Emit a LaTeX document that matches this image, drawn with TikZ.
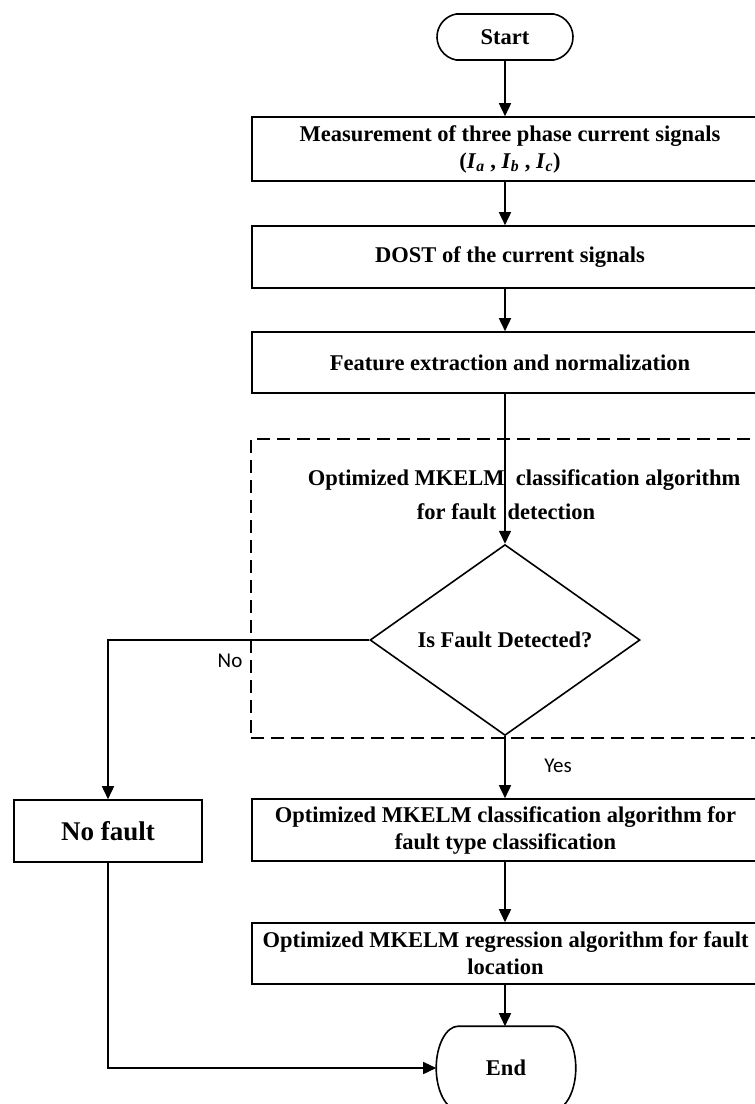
\documentclass[tikz,border=0pt]{standalone}
\usepackage{fontspec}
\setmainfont{Liberation Serif}
\newfontfamily\lblfont{Carlito}
\usetikzlibrary{arrows.meta,shapes.geometric,shapes.misc}
\begin{document}
\begin{tikzpicture}[x=1pt,y=-1pt,
  line width=1.6pt,
  arr/.style={-{Triangle[length=13pt,width=12pt]}},
  boxfont/.style={font=\fontsize{22.5}{27}\selectfont\bfseries},
  procbox/.style={draw, rectangle, inner sep=0pt, align=center, boxfont},
  term/.style={draw, rounded rectangle, inner sep=0pt, boxfont},
  endterm/.style={rectangle, inner sep=0pt, boxfont},
  decision/.style={draw, diamond, inner sep=0pt, boxfont},
  lbl/.style={font=\fontsize{21}{25}\selectfont\lblfont, inner sep=0pt},
  grouptxt/.style={inner sep=0pt, boxfont},
  grp/.style={draw, dash pattern=on 13pt off 7pt, inner sep=0pt}
]
\useasboundingbox (0,0) rectangle (755,1104);

\node[term, minimum width=136pt, minimum height=46pt, rounded rectangle arc length=160] (start) at (505,37) {Start};
\node[procbox, minimum width=516pt, minimum height=64pt] (b1) at (510,149)
  {Measurement of three phase current signals\\
   (\textit{I}\textsubscript{\textit{a}} , \textit{I}\textsubscript{\textit{b}} , \textit{I}\textsubscript{\textit{c}})};
\node[procbox, minimum width=516pt, minimum height=62pt] (b2) at (510,257) {DOST of the current signals};
\node[procbox, minimum width=516pt, minimum height=61pt] (b3) at (510,362.5) {Feature extraction and normalization};

\node[grp, minimum width=530pt, minimum height=299pt] (grp) at (516,588.5) {};
\node[grouptxt] (gt1) at (524,480) {Optimized MKELM\ \ classification algorithm};
\node[grouptxt] (gt2) at (506,512) {for fault\ \ detection};

\node[decision, minimum width=270pt, minimum height=154pt] (dec) at (505,640) {Is Fault Detected?};

\node[procbox, minimum width=188pt, minimum height=62pt, font=\fontsize{27}{32}\selectfont\bfseries] (nofault) at (108,831) {No fault};

\node[procbox, minimum width=507pt, minimum height=62pt] (b4) at (505.5,830)
  {Optimized MKELM classification algorithm for\\ fault type classification};
\node[procbox, minimum width=507pt, minimum height=61pt] (b5) at (505.5,953.5)
  {Optimized MKELM regression algorithm for fault\\ location};

\node[endterm, minimum width=138pt, minimum height=82pt] (end) at (506,1068) {End};
\draw ([xshift=22pt]end.north west) -- ([xshift=-22pt]end.north east)
  .. controls +(12.15,0) and +(0,-22.6) .. (end.east)
  .. controls +(0,22.6) and +(12.15,0) .. ([xshift=-22pt]end.south east)
  -- ([xshift=22pt]end.south west)
  .. controls +(-12.15,0) and +(0,22.6) .. (end.west)
  .. controls +(0,-22.6) and +(-12.15,0) .. ([xshift=22pt]end.north west) -- cycle;

\draw[arr] (start.south) -- (start |- b1.north);
\draw[arr] (start |- b1.south) -- (start |- b2.north);
\draw[arr] (start |- b2.south) -- (start |- b3.north);
\draw[arr] (dec |- b3.south) -- (dec.north);
\draw[arr] (dec.south) -- (dec |- b4.north);
\draw[arr] (dec.west) -| (nofault.north);
\draw[arr] (dec |- b4.south) -- (dec |- b5.north);
\draw[arr] (dec |- b5.south) -- (dec |- end.north);
\draw[arr] (nofault.south) |- (end.west);

\node[lbl] (no) at (230,661) {No};
\node[lbl] (yes) at (558,766) {Yes};
\end{tikzpicture}
\end{document}
